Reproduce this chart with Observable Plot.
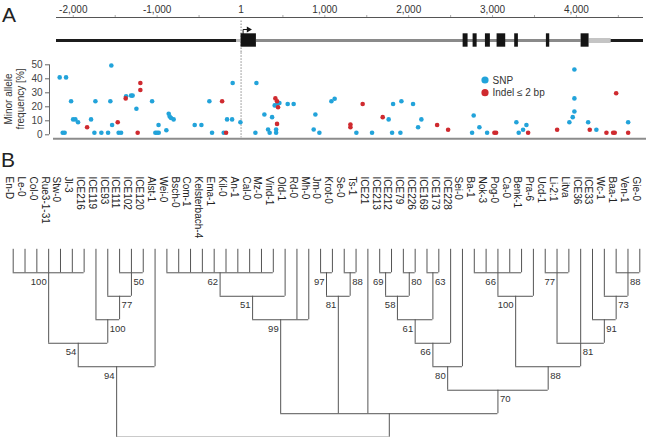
<!DOCTYPE html>
<html><head><meta charset="utf-8">
<script src="https://cdn.jsdelivr.net/npm/d3@7"></script>
<script src="https://cdn.jsdelivr.net/npm/@observablehq/plot@0.6"></script>
<style>
body{margin:0;background:#fff;font-family:"Liberation Sans",Arial,Helvetica,sans-serif;}
#wrap{position:relative;width:646px;height:437px;overflow:hidden;background:#fff;}
#wrap > svg{position:absolute;left:0;}
</style></head><body><div id="wrap"></div>
<script>
// ---------- Panel A data ----------
const axisTicks = [-2000, -1000, 1, 1000, 2000, 3000, 4000];
const minorTicks = [-2000, -1500, -1000, -500, 500, 1000, 1500, 2000, 2500, 3000, 3500, 4000, 4500];
const exonStart = [1, 2649, 2768, 2915, 3054, 3264, 3642, 4056];
const exonEnd   = [184, 2708, 2816, 2974, 3157, 3308, 3682, 4151];
const segStart = [-2200, -50, 184, 4151, 4414];
const segEnd   = [-50, 1, 4056, 4414, 4800];
const segKind  = ["flank", "utr5", "intron", "utr3", "flank"];

const snpPos  = [-2162,-2086,-2126,-2103,-2026,-2002,-1975,-1943,-1788,-1748,-1736,-1665,-1585,-1558,-1546,-1537,-1459,-1430,-1370,-1311,-1292,-1247,-1060,-1021,-1001,-981,-983,-890,-862,-850,-834,-803,-552,-472,-377,-345,-206,-166,-106,-99,-7,172,184,279,323,342,371,419,419,402,430,458,557,628,867,887,935,1078,1117,1376,1563,1761,1802,1814,1901,1913,2052,2112,2151,2756,2775,2843,2935,3284,3312,3364,3404,3916,3956,3976,3976,3976,4140,4238,4617];
const snpFreq = [41,41,1.5,1.5,24,11,11,9,11,1.5,24,1.5,1.5,24,49.5,7,1.5,1.5,27.5,28,28,18.6,24,1.5,1.5,1.5,7,3.3,15,13,12,11,7,7,24,1.5,1.5,11,11,37,9,1.5,37,14.5,3.8,1.5,12.6,1.5,3.8,21,21.5,22.7,22,22,3.8,14.5,1.5,24,25.7,1.5,1.5,11,1.5,22,1.5,24,22,5.4,11,1.5,13.8,5.4,1.5,9,1.5,3.6,7,9,12.6,16.6,26,46.6,9,3.6,9];
const indelPos  = [-1835,-1470,-1375,-1232,-1200,-1200,-225,-178,410,430,442,430,1305,1305,1451,1690,2339,2470,3022,3042,3424,3770,4159,4358,4438,4457,4474,4617];
const indelFreq = [5.4,9,26,1.5,37,32,24,1.5,26,24,19.7,7.8,7.4,5.4,22,12.6,7,3.6,1.5,1.5,1.5,3.6,3.6,1.5,1.5,1.5,29.7,1.5];
const freqTicks = [0, 10, 20, 30, 40, 50];

// ---------- Panel B data ----------
const leaves = ["En-D","Le-0","Col-0","Rue3-1-31","Stw-0","Jl-3","ICE216","ICE119","ICE93","ICE111","ICE102","ICE120","Alst-1","Wei-0","Bsch-0","Com-1","Kelsterbach-4","Ema-1","Kil-0","An-1","Cal-0","Mz-0","Vind-1","Old-1","Rd-0","Mh-0","Jm-0","Krot-0","Se-0","Ts-1","ICE21","ICE213","ICE212","ICE79","ICE226","ICE169","ICE173","ICE228","Sei-0","Ba-1","Nok-3","Pog-0","Ca-0","Benk-1","Pra-6","Ucd-1","Li-2:1","Litva","ICE36","ICE33","Wc-1","Baa-1","Ven-1","Gie-0"];
// internal nodes: children (leaf numbers 1..54 or node ids), depth level, bootstrap value, label side
const nodeIds   = ["a1","a2","a3","a4","a5","a6","b1","b2","b3","c1","c2","c3","d1","d2","d3","d4","d5","d6","d7","e1","e2","f1","f2","f3","f4","f5","e3","g1","g2","root"];
const nodeKids  = [[1,2,3,4,5,6,7],[10,11,12],[9,"a2"],[8,"a3"],["a1","a4"],["a5",13],
  [14,15,16,17,18,19,20,21,22,23],["b1",24],["b2",25,26],
  [27,28],[29,30],["c1","c2"],
  [32,33],[34,35],["d1","d2"],[36,37],["d3","d4"],["d5",38],["d6",39],
  [40,41,42,43,44],["e1",45],[46,47,48],[52,53,54],[51,"f2"],[50,"f3"],["f1",49,"f4"],["e2","f5"],["d7","e3"],
  ["b3","c3",31,"g1"],["a6","g2"]];
const nodeLevel = [1,1,2,3,4,5, 1,2,3, 1,1,2, 1,1,2,1,3,4,5, 1,2,1,1,2,3,4,5,6, 7,8];
const nodeBoot  = [100,50,77,100,54,94, 62,51,99, 97,88,81, 69,80,58,63,61,66,80, 66,100,77,88,73,91,81,88,70, null,null];
const nodeSide  = ["L","R","R","R","L","L", "L","L","L", "L","R","L", "L","R","L","R","L","L","L", "L","L","L","R","R","R","R","R","R", "",""];

// ---------- styles ----------
const FONT = `"Liberation Sans", Arial, Helvetica, sans-serif`;
const BLUE = "#22a3da", RED = "#cf2a2f";
const X_DOMAIN = [-2200, 4800], X_RANGE = [56, 643];
const wrap = document.getElementById("wrap");

// ---------- gene model ----------
const segStyle = {flank: ["#1c1c1c", 3], utr5: ["#bdbdbd", 3], intron: ["#8a8a8a", 3], utr3: ["#c4c4c4", 5]};
const GENE_Y = 12, EXON_LO = 5.3, EXON_HI = 18.7, AXIS_Y = 35;
const gene = Plot.plot({
  width: 646, height: 52, marginTop: 17, marginBottom: 0, marginLeft: 56, marginRight: 3,
  style: {fontFamily: FONT, background: "transparent", overflow: "visible"},
  x: {domain: X_DOMAIN, range: X_RANGE},
  y: {domain: [0, 35], range: [52, 17], axis: null},
  marks: [
    Plot.axisX(minorTicks, {anchor: "top", tickSize: 3, tickFormat: () => "", stroke: "#aaa"}),
    Plot.axisX(axisTicks, {anchor: "top", tickSize: 0, tickPadding: 5, fontSize: 10, fill: "#333",
      tickFormat: d => d.toLocaleString("en-US")}),
    Plot.ruleY([AXIS_Y], {stroke: "#555", strokeWidth: 1}),
    Plot.ruleX([1], {y1: 0, y2: 33, stroke: "#888", strokeDasharray: "1.5,1.5"}),
    Plot.ruleY(d3.range(segStart.length), {x1: i => segStart[i], x2: i => segEnd[i], y: GENE_Y,
      stroke: i => segStyle[segKind[i]][0], strokeWidth: i => segStyle[segKind[i]][1]}),
    Plot.rect(d3.range(exonStart.length), {x1: i => exonStart[i], x2: i => exonEnd[i], y1: EXON_LO, y2: EXON_HI, fill: "#141414"}),
    Plot.line([[25, EXON_HI], [25, 23], [80, 23]], {stroke: "#141414", strokeWidth: 1}),
    Plot.dot([[90, 23]], {symbol: "triangle", r: 2.2, fill: "#141414", rotate: 90})
  ]
});
gene.style.top = "0px";
wrap.appendChild(gene);

// ---------- scatter ----------
const scatter = Plot.plot({
  width: 646, height: 90, marginTop: 12.3, marginBottom: 7.7, marginLeft: 49, marginRight: 0,
  style: {fontFamily: FONT, background: "transparent", overflow: "visible"},
  x: {domain: X_DOMAIN, range: X_RANGE, axis: null},
  y: {domain: [0, 50], range: [82.3, 12.3]},
  marks: [
    Plot.axisY(freqTicks, {anchor: "left", tickSize: 4, tickPadding: 3, fontSize: 10, fill: "#444", stroke: "#666", label: null}),
    Plot.ruleX([X_DOMAIN[0]], {y1: 0, y2: 50, dx: -7, stroke: "#666"}),
    Plot.ruleY([0], {dy: 4, insetLeft: 4, stroke: "#8c8c8c", strokeWidth: 2}),
    Plot.ruleX([1], {insetTop: -12, insetBottom: -3, stroke: "#888", strokeDasharray: "1.5,1.5"}),
    Plot.dot(d3.range(snpPos.length), {x: i => snpPos[i], y: i => snpFreq[i], r: 2.3, fill: BLUE}),
    Plot.dot(d3.range(indelPos.length), {x: i => indelPos[i], y: i => indelFreq[i], r: 2.3, fill: RED})
  ]
});
scatter.style.top = "52px";
wrap.appendChild(scatter);

// ---------- dendrogram ----------
const pos = {};
leaves.forEach((d, i) => pos[i + 1] = {x: i + 1, level: 0});
const hz = [], vt = [], boots = [];
nodeIds.forEach((id, j) => {
  const xs = nodeKids[j].map(k => pos[k].x);
  const lo = d3.min(xs), hi = d3.max(xs);
  pos[id] = {x: (lo + hi) / 2, level: nodeLevel[j]};
  hz.push({x1: lo, x2: hi, y: nodeLevel[j]});
  nodeKids[j].forEach(k => vt.push({x: pos[k].x, y1: pos[k].level, y2: nodeLevel[j]}));
  if (nodeBoot[j] != null) boots.push({x: pos[id].x, y: nodeLevel[j], text: String(nodeBoot[j]), side: nodeSide[j]});
});
const tree = Plot.plot({
  width: 646, height: 295, marginTop: 34, marginBottom: 0, marginLeft: 0, marginRight: 0,
  style: {fontFamily: FONT, background: "transparent", overflow: "visible"},
  x: {domain: [1, leaves.length], range: [12.7, 639.3], axis: null},
  y: {domain: [0, 8], range: [106.8, 294.7], axis: null},
  marks: [
    Plot.text(leaves, {x: (d, i) => i + 1, frameAnchor: "top", rotate: 90, textAnchor: "start", fontSize: 10, fill: "#222"}),
    Plot.ruleX(vt, {x: "x", y1: "y1", y2: "y2", stroke: "#555", strokeWidth: 1}),
    Plot.ruleY(hz, {x1: "x1", x2: "x2", y: "y", stroke: "#555", strokeWidth: 1}),
    Plot.text(boots.filter(d => d.side === "L"), {x: "x", y: "y", text: "text", dx: -2, dy: 9, textAnchor: "end", fontSize: 9.5, fill: "#333"}),
    Plot.text(boots.filter(d => d.side === "R"), {x: "x", y: "y", text: "text", dx: 2, dy: 9, textAnchor: "start", fontSize: 9.5, fill: "#333"})
  ]
});
tree.style.top = "142px";
wrap.appendChild(tree);

// ---------- overlay: panel letters, axis title & legend ----------
const ov = d3.select(wrap).append("svg").attr("width", 646).attr("height", 437)
  .style("top", "0px").style("pointer-events", "none").style("font-family", FONT);
ov.append("text").attr("x", 2).attr("y", 21.5).attr("font-size", 21).attr("fill", "#222").text("A");
ov.append("text").attr("x", 1).attr("y", 166.5).attr("font-size", 21).attr("fill", "#222").text("B");
const yTitle = ["Minor allele", "frequency [%]"];
yTitle.forEach((t, i) => {
  ov.append("text").attr("transform", `translate(${8.5 + i * 11.5},99) rotate(-90)`)
    .attr("text-anchor", "middle").attr("dy", "0.35em").attr("font-size", 10).attr("fill", "#333").text(t);
});
const legendItems = [["SNP", BLUE], ["Indel \u2264 2 bp", RED]];
legendItems.forEach(([t, c], i) => {
  const y = 80 + i * 12.7;
  ov.append("circle").attr("cx", 485).attr("cy", y).attr("r", 3.6).attr("fill", c);
  ov.append("text").attr("x", 492.5).attr("y", y).attr("dy", "0.35em").attr("font-size", 10).attr("fill", "#333").text(t);
});
</script></body></html>
